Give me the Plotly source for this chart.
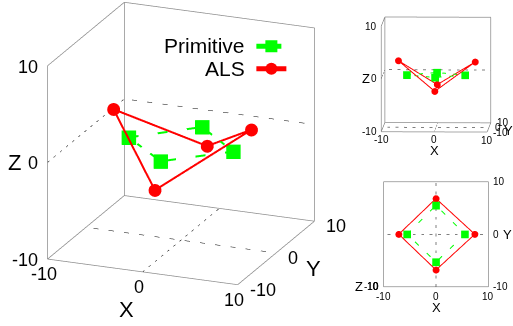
import plotly.graph_objects as go

# ---- data ----
prim_x = [-5.5, 0.0, 5.5, 0.0]
prim_y = [0.0, 5.5, 0.0, -5.3]
prim_z = [-0.1, -0.1, -0.1, -0.1]

als_x = [-7.1, 0.0, 7.4, 0.0]
als_y = [0.0, 6.8, 0.0, -6.8]
als_z = [2.6, -2.5, 2.4, -2.6]

tick_vals = [-10, 0, 10]
tick_text = ["-10", "0", "10"]
axis_range = [-10, 10]
axis_titles = ["X", "Y", "Z"]

series_names = ["Primitive", "ALS"]

GREEN = "#00ff00"
RED = "#ff0000"
BOX = "#8c8c8c"
FONT = "Liberation Sans"


def closed(a):
    return list(a) + [a[0]]


lo, hi = axis_range
mid = (lo + hi) / 2

# box outline (back walls + floor), gnuplot style
box_pts = [
    (lo, lo, lo), (hi, lo, lo), (hi, hi, lo), (lo, hi, lo), (lo, lo, lo), None,
    (lo, lo, lo), (lo, lo, hi), (lo, hi, hi), (hi, hi, hi), (hi, hi, lo), None,
    (lo, hi, lo), (lo, hi, hi),
]
grid_pts = [
    (lo, lo, mid), (lo, hi, mid), (hi, hi, mid), None,
    (mid, lo, lo), (mid, hi, lo), None,
    (lo, mid, lo), (hi, mid, lo),
]


def split(pts):
    xs, ys, zs = [], [], []
    for p in pts:
        if p is None:
            xs.append(None); ys.append(None); zs.append(None)
        else:
            xs.append(p[0]); ys.append(p[1]); zs.append(p[2])
    return xs, ys, zs


fig = go.Figure()

scenes = ["scene", "scene2", "scene3"]
for i, sc in enumerate(scenes):
    big = (i == 0)
    bx, by, bz = split(box_pts)
    fig.add_trace(go.Scatter3d(x=bx, y=by, z=bz, mode="lines", scene=sc,
                               line=dict(color=BOX, width=1.5),
                               showlegend=False, hoverinfo="skip"))
    gx, gy, gz = split(grid_pts)
    fig.add_trace(go.Scatter3d(x=gx, y=gy, z=gz, mode="lines", scene=sc,
                               line=dict(color="#000000", width=1, dash="dash"),
                               showlegend=False, hoverinfo="skip"))
    fig.add_trace(go.Scatter3d(
        x=closed(prim_x), y=closed(prim_y), z=closed(prim_z),
        mode="lines+markers", scene=sc, name=" ",
        line=dict(color=GREEN, width=4 if big else 2, dash="longdash"),
        marker=dict(color=GREEN, symbol="square", size=7.5 if big else 4, line=dict(width=0)),
        showlegend=big, legendrank=1, hoverinfo="skip"))
    fig.add_trace(go.Scatter3d(
        x=closed(als_x), y=closed(als_y), z=closed(als_z),
        mode="lines+markers", scene=sc, name="  ",
        line=dict(color=RED, width=4 if big else 2),
        marker=dict(color=RED, symbol="circle", size=7.5 if big else 4, line=dict(width=0)),
        showlegend=big, legendrank=2, hoverinfo="skip"))


def axis():
    return dict(range=axis_range, tickvals=tick_vals, showticklabels=False,
                showgrid=False, zeroline=False, showline=False,
                showbackground=False, showspikes=False, ticks="", title=dict(text=""))


def ann(x, y, z, text, size, **kw):
    d = dict(x=x, y=y, z=z, text=text, showarrow=False,
             font=dict(size=size, family=FONT, color="black"))
    d.update(kw)
    return d


def labels(tick_fs, title_fs, xt, yt, zt, xT, yT, zT):
    """Build tick/axis-title annotations for one scene."""
    out = []
    for t, s in zip(tick_vals, tick_text):
        out.append(ann(t, lo, lo, s, tick_fs, **xt))
        out.append(ann(hi, t, lo, s, tick_fs, **yt))
        out.append(ann(lo, lo, t, s, tick_fs, **zt))
    out.append(ann(mid, lo, lo, axis_titles[0], title_fs, **xT))
    out.append(ann(hi, mid, lo, axis_titles[1], title_fs, **yT))
    out.append(ann(lo, lo, mid, axis_titles[2], title_fs, **zT))
    return out


def scene_cfg(domx, domy, eye, center, up, aspect, annotations):
    return dict(domain=dict(x=domx, y=domy),
                xaxis=axis(), yaxis=axis(), zaxis=axis(),
                aspectmode="manual", aspectratio=dict(x=aspect, y=aspect, z=aspect),
                camera=dict(eye=eye, up=up, center=center,
                            projection=dict(type="orthographic")),
                bgcolor="white", annotations=annotations)


# main view (gnuplot-like 70.5 / 22 rotation)
L = 2.3
cz = -0.127
main_center = dict(x=0, y=0, z=cz)
main_eye = dict(x=0.353 * L, y=-0.874 * L, z=0.334 * L + cz)
main_ann = labels(
    18, 22,
    dict(xshift=-4, yshift=-15),
    dict(xanchor="left", xshift=10, yshift=-5),
    dict(xanchor="right", xshift=-8, yshift=-1),
    dict(xshift=-16, yshift=-38),
    dict(xshift=37, yshift=-16),
    dict(xshift=-33),
)

# front view
Lf = 2.3
cfz = -0.149
front_center = dict(x=0, y=0, z=cfz)
front_eye = dict(x=0.034 * Lf, y=-0.996 * Lf, z=0.087 * Lf + cfz)
front_ann = labels(
    10, 13,
    dict(yshift=-8),
    dict(xanchor="left", xshift=4),
    dict(xanchor="right", xshift=-2),
    dict(yshift=-19),
    dict(xshift=20, yshift=-3),
    dict(xshift=-15),
)

# top view
Lt = 2.3
cty = -0.215
top_center = dict(x=0, y=cty, z=0)
top_eye = dict(x=0.0, y=cty, z=Lt)
top_ann = labels(
    10, 13,
    dict(yshift=-10),
    dict(xanchor="left", xshift=3),
    dict(xanchor="right", xshift=-3),
    dict(yshift=-21),
    dict(xanchor="left", xshift=13),
    dict(xshift=-25),
)

fig.update_layout(
    width=513, height=326,
    margin=dict(l=0, r=0, t=0, b=0),
    paper_bgcolor="white",
    scene=scene_cfg([0.0, 0.7056], [0.0, 1.0], main_eye, main_center, dict(x=0, y=0, z=1),
                    1.258, main_ann),
    scene2=scene_cfg([0.70, 1.0], [0.463, 1.0], front_eye, front_center, dict(x=0, y=0, z=1),
                     1.211, front_ann),
    scene3=scene_cfg([0.70, 1.0], [0.0, 0.463], top_eye, top_center, dict(x=0, y=1, z=0),
                     1.39, top_ann),
    showlegend=True,
    legend=dict(x=0.49, y=0.908, xanchor="left", yanchor="top",
                font=dict(size=15, family=FONT), bgcolor="rgba(0,0,0,0)",
                tracegroupgap=0, itemclick=False, itemsizing="constant"),
    annotations=[
        dict(text=series_names[0], x=247 / 513, y=1 - 45.7 / 326, xref="paper", yref="paper",
             xanchor="right", yanchor="middle", showarrow=False,
             font=dict(size=21, family=FONT, color="black")),
        dict(text=series_names[1], x=247 / 513, y=1 - 68.7 / 326, xref="paper", yref="paper",
             xanchor="right", yanchor="middle", showarrow=False,
             font=dict(size=21, family=FONT, color="black")),
    ],
)

fig.write_html("out.html")
